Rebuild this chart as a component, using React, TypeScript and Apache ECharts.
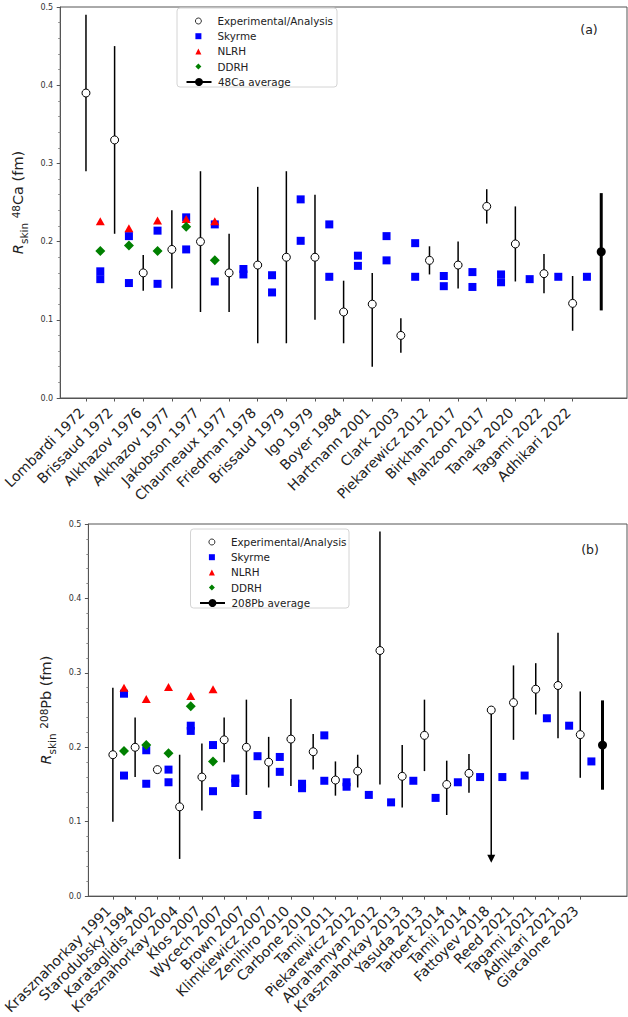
import React, { useEffect, useRef } from "react";
import * as echarts from "echarts";

const FONT = '"DejaVu Sans", Verdana, sans-serif';

// ---- 48Ca panel ----
const caLabels = [
  "Lombardi 1972", "Brissaud 1972", "Alkhazov 1976", "Alkhazov 1977", "Jakobson 1977",
  "Chaumeaux 1977", "Friedman 1978", "Brissaud 1979", "Igo 1979", "Boyer 1984",
  "Hartmann 2001", "Clark 2003", "Piekarewicz 2012", "Birkhan 2017", "Mahzoon 2017",
  "Tanaka 2020", "Tagami 2022", "Adhikari 2022",
];
const caExp = [0.39, 0.33, 0.16, 0.19, 0.2, 0.16, 0.17, 0.18, 0.18, 0.11, 0.12, 0.08, 0.176, 0.17, 0.245, 0.197, 0.159, 0.121];
const caErrPlus = [0.1, 0.12, 0.023, 0.05, 0.09, 0.05, 0.1, 0.11, 0.08, 0.04, 0.04, 0.022, 0.018, 0.03, 0.022, 0.048, 0.025, 0.035];
const caErrMinus = [0.1, 0.12, 0.023, 0.05, 0.09, 0.05, 0.1, 0.11, 0.08, 0.04, 0.08, 0.022, 0.018, 0.03, 0.022, 0.048, 0.025, 0.035];
const caSkyrme = [
  [0.162, 0.152], [0.207, 0.147], [0.214, 0.146], [0.231, 0.19], [0.222, 0.149],
  [0.165, 0.158], [0.157, 0.135], [0.254, 0.201], [0.222, 0.155], [0.182, 0.169],
  [0.207, 0.176], [0.198, 0.155], [0.156, 0.143], [0.161, 0.142], [0.158, 0.148],
  [0.152], [0.155], [0.155],
];
const caNlrh = [0.226, 0.217, 0.227, 0.229, 0.226];
const caDdrh = [0.188, 0.195, 0.188, 0.219, 0.176];
const caAverage = 0.187;
const caAverageErr = 0.075;

// ---- 208Pb panel ----
const pbLabels = [
  "Krasznahorkay 1991", "Starodubsky 1994", "Karataglidis 2002", "Krasznahorkay 2004", "Kłos 2007",
  "Wycech 2007", "Brown 2007", "Klimkiewicz 2007", "Zenihiro 2010", "Carbone 2010",
  "Tamii 2011", "Piekarewicz 2012", "Abrahamyan 2012", "Krasznahorkay 2013", "Yasuda 2013",
  "Tarbert 2014", "Tamii 2014", "Fattoyev 2018", "Reed 2021", "Tagami 2021",
  "Adhikari 2021", "Giacalone 2023",
];
const pbExp = [0.19, 0.2, 0.17, 0.12, 0.16, 0.21, 0.2, 0.18, 0.211, 0.194, 0.156, 0.168, 0.33, 0.161, 0.216, 0.15, 0.165, 0.25, 0.26, 0.278, 0.283, 0.217];
const pbErrPlus = [0.09, 0.04, null, 0.07, 0.045, 0.03, 0.064, 0.034, 0.054, 0.024, 0.025, 0.022, 0.16, 0.042, 0.048, 0.032, 0.026, null, 0.05, 0.035, 0.071, 0.058];
const pbErrMinus = [0.09, 0.04, null, 0.07, 0.045, 0.03, 0.064, 0.034, 0.063, 0.024, 0.021, 0.022, 0.18, 0.042, 0.048, 0.041, 0.026, null, 0.05, 0.034, 0.071, 0.058];
// upper limit drawn as a downward arrow: [index, arrow tip]
const pbUpperLimits = [[17, 0.045]];
const pbSkyrme = [
  [0.272, 0.162], [0.196, 0.151], [0.17, 0.153], [0.229, 0.222], [0.203, 0.141],
  [0.158, 0.152], [0.188, 0.109], [0.187, 0.167], [0.151, 0.145], [0.216, 0.155],
  [0.153, 0.147], [0.136], [0.126], [0.155], [0.132], [0.153], [0.16], [0.16],
  [0.162], [0.239], [0.229], [0.181],
];
const pbNlrh = [0.28, 0.265, 0.281, 0.269, 0.278];
const pbDdrh = [0.195, 0.203, 0.192, 0.255, 0.181];
const pbAverage = 0.203;
const pbAverageErr = 0.06;

const AXIS_COLOR = "#555";
const TEXT_COLOR = "#222";

function errorBarRender(width: number) {
  return (params: any, api: any) => {
    const x = api.value(0);
    const a = api.coord([x, api.value(1)]);
    const b = api.coord([x, api.value(2)]);
    return {
      type: "line",
      shape: { x1: a[0], y1: a[1], x2: b[0], y2: b[1] },
      style: { stroke: "#000", lineWidth: width },
    };
  };
}

function arrowRender(params: any, api: any) {
  const x = api.value(0);
  const a = api.coord([x, api.value(1)]);
  const b = api.coord([x, api.value(2)]);
  return {
    type: "group",
    children: [
      {
        type: "line",
        shape: { x1: a[0], y1: a[1], x2: b[0], y2: b[1] - 6 },
        style: { stroke: "#000", lineWidth: 1.5 },
      },
      {
        type: "polygon",
        shape: { points: [[b[0] - 4, b[1] - 8], [b[0] + 4, b[1] - 8], [b[0], b[1]]] },
        style: { fill: "#000" },
      },
    ],
  };
}

function panelSeries(
  idx: number,
  exp: number[],
  errPlus: (number | null)[],
  errMinus: (number | null)[],
  skyrme: number[][],
  nlrh: number[],
  ddrh: number[],
  avg: number,
  avgErr: number,
  avgName: string,
  limits: number[][],
) {
  const axes = { xAxisIndex: idx, yAxisIndex: idx };
  const bars = exp
    .map((v, i) => (errPlus[i] == null ? null : [i, v - (errMinus[i] as number), v + (errPlus[i] as number)]))
    .filter((d) => d !== null);
  const skyPts: number[][] = [];
  skyrme.forEach((vals, i) => vals.forEach((v) => skyPts.push([i + 0.5, v])));
  const n = exp.length;
  const series: any[] = [
    {
      type: "custom",
      ...axes,
      renderItem: errorBarRender(1.5),
      encode: { x: 0, y: [1, 2] },
      data: bars,
      z: 2,
    },
  ];
  if (limits.length) {
    series.push({
      type: "custom",
      ...axes,
      renderItem: arrowRender,
      encode: { x: 0, y: [1, 2] },
      data: limits.map(([i, tip]) => [i, exp[i], tip]),
      z: 2,
    });
  }
  series.push(
    {
      name: "Experimental/Analysis",
      type: "scatter",
      ...axes,
      symbol: "circle",
      symbolSize: 8,
      itemStyle: { color: "#fff", borderColor: "#000", borderWidth: 1, opacity: 1 },
      data: exp.map((v, i) => [i, v]),
      z: 3,
    },
    {
      name: "Skyrme",
      type: "scatter",
      ...axes,
      symbol: "rect",
      symbolSize: 8,
      itemStyle: { color: "#0000ff", opacity: 1 },
      data: skyPts,
      z: 3,
    },
    {
      name: "NLRH",
      type: "scatter",
      ...axes,
      symbol: "triangle",
      symbolSize: [9, 8],
      itemStyle: { color: "#ff0000", opacity: 1 },
      data: nlrh.map((v, i) => [i + 0.5, v]),
      z: 3,
    },
    {
      name: "DDRH",
      type: "scatter",
      ...axes,
      symbol: "diamond",
      symbolSize: 10,
      itemStyle: { color: "#008000", opacity: 1 },
      data: ddrh.map((v, i) => [i + 0.5, v]),
      z: 3,
    },
    {
      type: "custom",
      ...axes,
      renderItem: errorBarRender(3),
      encode: { x: 0, y: [1, 2] },
      data: [[n, avg - avgErr, avg + avgErr]],
      z: 3,
    },
    {
      name: avgName,
      type: "line",
      ...axes,
      symbol: "circle",
      symbolSize: 9,
      showSymbol: true,
      itemStyle: { color: "#000" },
      lineStyle: { color: "#000", width: 3 },
      data: [[n, avg]],
      z: 4,
    },
  );
  return series;
}

function xAxisFor(idx: number, labels: string[], min: number, max: number) {
  const ticks = labels.map((_, i) => i);
  return {
    gridIndex: idx,
    type: "value",
    min,
    max,
    axisLine: { show: true, onZero: false, lineStyle: { color: AXIS_COLOR, width: 1 } },
    axisTick: { show: true, customValues: ticks, length: 3.5, lineStyle: { color: AXIS_COLOR } },
    axisLabel: {
      customValues: ticks,
      rotate: 45,
      margin: 8,
      padding: [0, 6, 0, 0],
      fontSize: 14,
      fontFamily: FONT,
      color: TEXT_COLOR,
      formatter: (v: number) => labels[Math.round(v)] ?? "",
    },
    splitLine: { show: false },
  };
}

function yAxisFor(idx: number, isotope: string, rest: string) {
  return {
    gridIndex: idx,
    type: "value",
    min: 0,
    max: 0.5,
    interval: 0.1,
    axisLine: { show: true, onZero: false, lineStyle: { color: AXIS_COLOR, width: 1 } },
    axisTick: { show: true, length: 3.5, lineStyle: { color: AXIS_COLOR } },
    minorTick: { show: true, splitNumber: 5, length: 2, lineStyle: { color: "#888" } },
    splitLine: { show: false },
    axisLabel: {
      margin: 7,
      fontSize: 8,
      fontFamily: FONT,
      color: "#333",
      formatter: (v: number) => v.toFixed(1),
    },
    name: `{it|R}{sub|skin}{m| }{sup|${isotope}}{m|${rest}}`,
    nameLocation: "middle",
    nameRotate: 90,
    nameGap: 14,
    nameTextStyle: {
      fontFamily: FONT,
      color: TEXT_COLOR,
      rich: {
        it: { fontFamily: FONT, fontSize: 14.5, lineHeight: 14, fontStyle: "italic", color: TEXT_COLOR, verticalAlign: "middle" },
        m: { fontFamily: FONT, fontSize: 14.5, lineHeight: 14, color: TEXT_COLOR, verticalAlign: "middle" },
        sub: { fontFamily: FONT, fontSize: 10.5, lineHeight: 10, padding: [8, 0, 0, 0], color: TEXT_COLOR, verticalAlign: "top" },
        sup: { fontFamily: FONT, fontSize: 10.5, lineHeight: 10, color: TEXT_COLOR, verticalAlign: "top" },
      },
    },
  };
}

// legend block: marker entries plus the average entry drawn with its line icon
function legendsFor(left: number, top: number, avgName: string) {
  const textStyle = { fontFamily: FONT, fontSize: 10.4, color: TEXT_COLOR, lineHeight: 12 };
  return [
    {
      orient: "vertical",
      left: left + 9.5,
      top,
      itemWidth: 6,
      itemHeight: 6,
      itemGap: 3.2,
      selectedMode: false,
      itemStyle: { borderWidth: 0.8 },
      textStyle: { ...textStyle, padding: [0, 0, 0, 11] },
      data: ["Experimental/Analysis", "Skyrme", "NLRH", "DDRH"],
    },
    {
      orient: "vertical",
      left,
      top: top + 61,
      itemWidth: 25,
      itemHeight: 10,
      selectedMode: false,
      textStyle: { ...textStyle, padding: [0, 0, 0, 1.5] },
      data: [avgName],
    },
  ];
}

export default function App() {
  const ref = useRef<HTMLDivElement>(null);

  useEffect(() => {
    if (!ref.current) return;
    const chart = echarts.init(ref.current, null, { renderer: "svg" });
    chart.setOption({
      animation: false,
      backgroundColor: "#fff",
      textStyle: { fontFamily: FONT },
      grid: [
        { left: 57, top: 7, width: 570, height: 391, show: true, borderColor: AXIS_COLOR, borderWidth: 1 },
        { left: 83, top: 524, width: 544, height: 381, show: true, borderColor: AXIS_COLOR, borderWidth: 1 },
      ],
      xAxis: [xAxisFor(0, caLabels, -0.9, 18.9), xAxisFor(1, pbLabels, -1.1, 23.1)],
      yAxis: [yAxisFor(0, "48", "Ca (fm)"), yAxisFor(1, "208", "Pb (fm)")],
      legend: [...legendsFor(180.5, 10, "48Ca average"), ...legendsFor(194, 531, "208Pb average")],
      graphic: [
        {
          type: "rect",
          z: 3,
          shape: { x: 177, y: 8, width: 160, height: 79, r: 3 },
          style: { fill: "rgba(255,255,255,0.8)", stroke: "#d4d4d4", lineWidth: 1 },
        },
        {
          type: "rect",
          z: 3,
          shape: { x: 190.5, y: 529, width: 158.5, height: 79, r: 3 },
          style: { fill: "rgba(255,255,255,0.8)", stroke: "#d4d4d4", lineWidth: 1 },
        },
        {
          type: "text",
          x: 589,
          y: 29,
          style: { text: "(a)", fill: TEXT_COLOR, font: `12.5px ${FONT}`, align: "center", verticalAlign: "middle" },
        },
        {
          type: "text",
          x: 590,
          y: 549,
          style: { text: "(b)", fill: TEXT_COLOR, font: `12.5px ${FONT}`, align: "center", verticalAlign: "middle" },
        },
      ],
      series: [
        ...panelSeries(0, caExp, caErrPlus, caErrMinus, caSkyrme, caNlrh, caDdrh, caAverage, caAverageErr, "48Ca average", []),
        ...panelSeries(1, pbExp, pbErrPlus, pbErrMinus, pbSkyrme, pbNlrh, pbDdrh, pbAverage, pbAverageErr, "208Pb average", pbUpperLimits),
      ],
    });
    return () => chart.dispose();
  }, []);

  return (
    <div
      ref={ref}
      style={{ position: "absolute", left: 0, top: 0, width: 628, height: 1017 }}
    />
  );
}
